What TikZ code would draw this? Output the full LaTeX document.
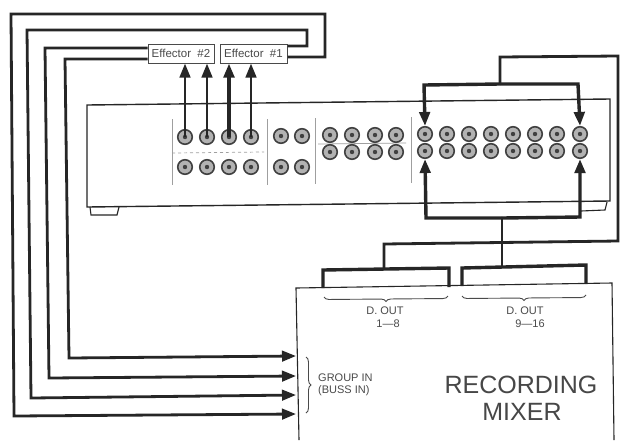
\documentclass[tikz,border=0pt]{standalone}
\usepackage{fontspec}
\setmainfont{Liberation Sans}
\usetikzlibrary{arrows.meta,decorations.pathreplacing}
\definecolor{ink}{HTML}{262626}
\definecolor{soft}{HTML}{4A4A4A}
\tikzset{
  wire/.style={draw=ink,line width=2.8pt,line join=miter},
  fat/.style={wire,line width=3.4pt},
  tipped/.style={-{Triangle[length=14pt,width=10.5pt]}},
  thinline/.style={draw=ink,line width=1.1pt},
  divider/.style={draw=gray!75,line width=.7pt},
  effbox/.style={draw=soft,line width=1pt,fill=white,minimum height=19pt,inner sep=0pt,text=soft,font=\fontsize{11.5}{12}\selectfont},
  jack/.style={circle,draw=gray!50!black,line width=1.6pt,fill=gray!60,minimum size=14.5pt,inner sep=0pt,
    path picture={\fill[black!75] (path picture bounding box.center) circle (2.2pt);}},
  lbl/.style={text=soft,inner sep=0pt,font=\fontsize{11}{12}\selectfont},
  big/.style={text=ink!85,inner sep=0pt,font=\fontsize{25}{27}\selectfont},
  brc/.style={draw=soft,line width=.9pt,decorate}
}
\begin{document}
\begin{tikzpicture}[x=1pt,y=-1pt]
\useasboundingbox[fill=white] (0,0) rectangle (620,440);
% recorder body
\draw[thinline,line width=1.4pt] (87,105) -- (610,99) -- (610,201) -- (87,207) -- cycle;
\draw[thinline] (90,207) -- (91,215) -- (117,215) -- (119,207);
\draw[thinline] (581,211) -- (605,210) -- (607,202);
% panel dividers
\foreach \a/\b/\c in {172/119/185,267/119/185,315/118/184,411/117/183}{\draw[divider] (\a,\b) -- (\a,\c);}
\draw[divider,dashed] (172,153) -- (264,152);
\draw[divider] (318,144) -- (406,143);
% jacks
\foreach \n/\x/\y in {a1/185/137,a2/207/137,a3/229/137,a4/251/137,b1/185/167,b2/207/167,b3/229/167,b4/251/167,
  c1/281/136,c2/302/136,d1/281/167,d2/302/167,
  e1/330/135,e2/352/135,e3/375/135,e4/396/135,f1/330/152,f2/352/152,f3/375/152,f4/396/152,
  g1/425/134,g2/447/134,g3/469/134,g4/491/134,g5/513/134,g6/535/134,g7/557/134,g8/580/134,
  h1/425/151,h2/447/151,h3/469/151,h4/491/151,h5/513/151,h6/535/151,h7/557/151,h8/580/151}{
  \node[jack] (\n) at (\x,\y) {};
}
% effectors
\node[effbox,minimum width=66pt] (eff2) at (181,53.5) {Effector\hspace{.55em}\#2};
\node[effbox,minimum width=67pt] (eff1) at (253.5,53.5) {Effector\hspace{.55em}\#1};
\draw[wire,tipped] (a1.center) -- (a1.center |- eff2.south);
\draw[wire,tipped] (a2.center) -- (a2.center |- eff2.south);
\draw[fat,tipped] (a3.center) -- (a3.center |- eff1.south);
\draw[wire,tipped] (a4.center) -- (a4.center |- eff1.south);
% mixer
\coordinate (mtl) at (296,288);
\coordinate (mtr) at (612,283);
\draw[thinline,fill=white] (299,440) -- (mtl) -- (mtr) -- (614,440);
\coordinate (in1) at (296,356);
\coordinate (in2) at (296,376);
\coordinate (in3) at (296,395);
\coordinate (in4) at (296,414);
% loops to group in
\draw[wire,tipped] ([yshift=-3.5pt]eff1.east) -- (325,57) -- (325,14) -- (11,14) -- (14,416) -- (in4);
\draw[wire,tipped] ([yshift=7.5pt]eff1.east) -- (307,46) -- (307,30) -- (27,30) -- (31,398) -- (in3);
\draw[wire,tipped] ([yshift=5.5pt]eff2.west) -- (45,48) -- (49,378) -- (in2);
\draw[wire,tipped] ([yshift=-5.5pt]eff2.west) -- (65,59) -- (69,358) -- (in1);
% D. OUT brackets
\coordinate (o1) at (323,288);
\coordinate (o2) at (449,287);
\coordinate (o3) at (462,286);
\coordinate (o4) at (586,284);
\coordinate (j1) at (384,269);
\coordinate (j2) at (502,267);
\draw[fat,line cap=butt] (o1) -- (323,270) -- (449,268) -- (o2);
\draw[fat] (o3) -- (462,268) -- (586,265) -- (o4);
% insert send bus
\coordinate (s1) at (500,84);
\draw[fat,tipped] (s1) -- (424,85) -- (g1.north);
\draw[fat,tipped] (s1) -- (578,84) -- (g8.north);
\draw[wire] (s1) -- (500,57) -- (618,56) -- (618,241) -- (384,244) -- (j1);
% insert return bus
\coordinate (r1) at (502,218);
\draw[fat,tipped] (r1) -- (426,218) -- (h1.south);
\draw[fat,tipped] (r1) -- (580,217) -- (h8.south);
\draw[wire] (r1) -- (j2);
% braces
\draw[brc,decoration={brace,amplitude=5pt}] (448,296) -- (324,297);
\draw[brc,decoration={brace,amplitude=5pt}] (586,295) -- (462,296);
\draw[brc,decoration={brace,amplitude=5pt}] (306,357) -- (306,413);
% labels
\node[lbl] (dout1) at (385,311) {D. OUT};
\node[lbl] (n1) at (388,324) {1—8};
\node[lbl] (dout2) at (525,311) {D. OUT};
\node[lbl] (n2) at (530,324) {9—16};
\node[lbl,anchor=west] (grp) at (318,378) {GROUP IN};
\node[lbl,anchor=west] (bus) at (318,391) {(BUSS IN)};
\node[big] (rec) at (521,385) {RECORDING};
\node[big] (mix) at (522,412) {MIXER};
\end{tikzpicture}
\end{document}
